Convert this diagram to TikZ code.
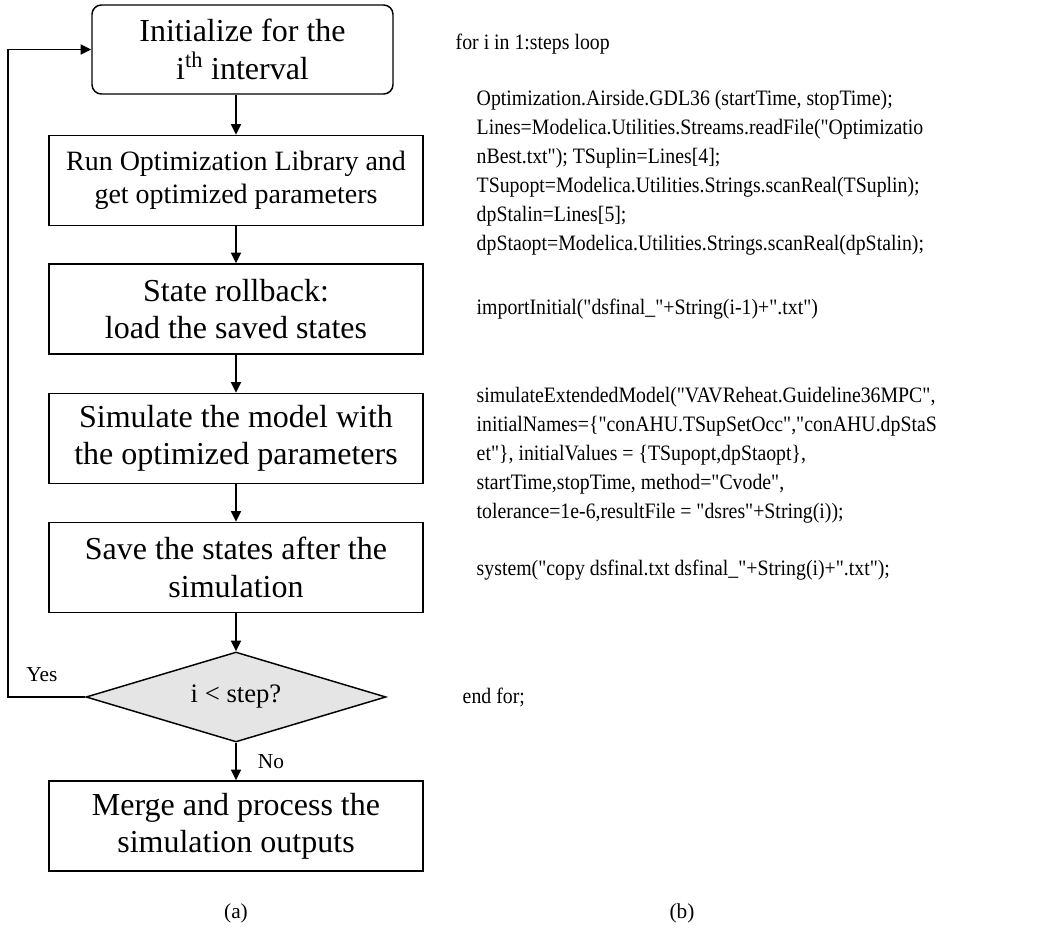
\documentclass[tikz,border=0pt]{standalone}
\usepackage{fontspec}
\setmainfont{Liberation Serif}
\newfontfamily\codefont{Liberation Serif}[Ligatures=TeXOff, FakeStretch=0.9]
\usepackage{tikz}
\usetikzlibrary{shapes.geometric,arrows.meta}

\begin{document}
\begin{tikzpicture}[x=0.75pt, y=-0.75pt, line width=1.1pt,
    arr/.style={-{Triangle[length=8pt,width=7.5pt]}},
    procbox/.style={draw, rectangle, minimum width=280.5pt, minimum height=67.5pt,
      inner sep=0pt, align=center, font=\fontsize{24}{28}\selectfont},
    startbox/.style={procbox, rounded corners=7pt, minimum width=225.75pt, minimum height=66.75pt},
    decision/.style={draw, diamond, aspect=3.33, fill=black!10, inner sep=0pt,
      minimum width=225pt, minimum height=67.5pt, font=\fontsize{20}{24}\selectfont},
    code/.style={anchor=base west, align=left, inner sep=0pt, font=\codefont\fontsize{16.5}{21.75}\selectfont},
    lbl/.style={inner sep=0pt, font=\fontsize{16}{19}\selectfont}]
  \useasboundingbox (0,0) rectangle (1047,934);

  % flow chart (a)
  \node[startbox] (init) at (242.5,49.5) {Initialize for the\\ i\textsuperscript{th} interval};
  \node[procbox, font=\fontsize{21}{24.5}\selectfont] (run) at (236,180.5) {Run Optimization Library and\\ get optimized parameters};
  \node[procbox] (roll) at (236,309) {State rollback:\\ load the saved states};
  \node[procbox] (sim) at (236,438.5) {Simulate the model with\\ the optimized parameters};
  \node[procbox] (save) at (236,567.5) {Save the states after the\\ simulation};
  \node[decision] (check) at (236,697) {i < step?};
  \node[procbox] (merge) at (236,826) {Merge and process the\\ simulation outputs};
  \coordinate (loop) at (8,0);

  \draw[arr] (run.north |- init.south) -- (run.north);
  \draw[arr] (run) -- (roll);
  \draw[arr] (roll) -- (sim);
  \draw[arr] (sim) -- (save);
  \draw[arr] (save) -- (check);
  \draw[arr] (check) -- (merge);
  \draw[arr] (check.west) -- (check.west -| loop) |- (init.west);

  \node[lbl] (yes) at (42,675) {Yes};
  \node[lbl] (no) at (271,762) {No};
  \node[lbl] (capa) at (236,913) {(a)};

  % code listing (b), multi-line nodes sit on their last baseline
  \node[code] (for) at (455,50) {for i in 1:steps loop};
  \node[code] (optim) at (476,251) {Optimization.Airside.GDL36 (startTime, stopTime);\\
    Lines=Modelica.Utilities.Streams.readFile("Optimizatio\\
    nBest.txt"); TSuplin=Lines[4];\\
    TSupopt=Modelica.Utilities.Strings.scanReal(TSuplin);\\
    dpStalin=Lines[5];\\
    dpStaopt=Modelica.Utilities.Strings.scanReal(dpStalin);};
  \node[code] (import) at (476,315) {importInitial("dsfinal\_"+String(i-1)+".txt")};
  \node[code] (simul) at (476,518) {simulateExtendedModel("VAVReheat.Guideline36MPC",\\
    initialNames=\{"conAHU.TSupSetOcc","conAHU.dpStaS\\
    et"\}, initialValues = \{TSupopt,dpStaopt\},\\
    startTime,stopTime, method="Cvode",\\
    tolerance=1e-6,resultFile = "dsres"+String(i));};
  \node[code] (copy) at (476,575) {system("copy dsfinal.txt dsfinal\_"+String(i)+".txt");};
  \node[code] (endfor) at (462,703) {end for;};
  \node[lbl] (capb) at (682,913) {(b)};
\end{tikzpicture}
\end{document}
